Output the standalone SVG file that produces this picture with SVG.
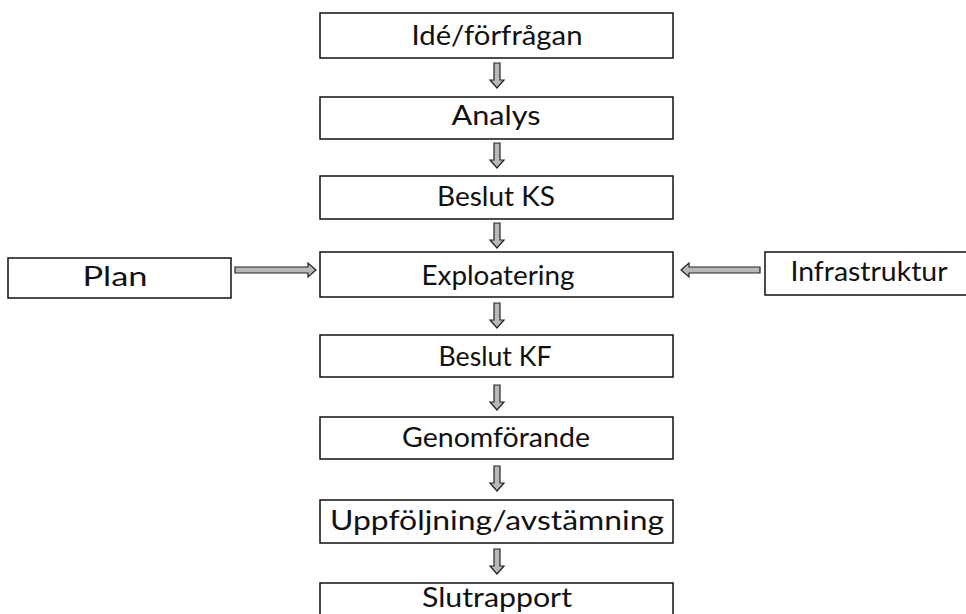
<svg xmlns="http://www.w3.org/2000/svg" xmlns:xlink="http://www.w3.org/1999/xlink" width="966" height="614" viewBox="0 0 966 614">
<style>
.box{fill:#fff;stroke:#111;stroke-width:1.5}
.lbl{font-family:Lato,"Open Sans","Liberation Sans",sans-serif;font-size:26px;fill:#111;text-anchor:middle}
.arr{fill:#b8b8b8;stroke:#222;stroke-width:1.2;stroke-linejoin:miter}
</style>
<defs>
<path id="vArrow" class="arr" d="M-3,0 H3 V17 H7 L0,25 L-7,17 H-3 Z"/>
</defs>
<rect width="966" height="614" fill="#fff"/>
<g id="connectors">
<use xlink:href="#vArrow" x="497" y="63"/>
<use xlink:href="#vArrow" x="497" y="143"/>
<use xlink:href="#vArrow" x="497" y="223"/>
<use xlink:href="#vArrow" x="497" y="303"/>
<use xlink:href="#vArrow" x="497" y="385"/>
<use xlink:href="#vArrow" x="497" y="466"/>
<use xlink:href="#vArrow" x="497" y="549"/>
<path class="arr" d="M235,267 H308 V263 L316,270 L308,277 V273 H235 Z"/>
<path class="arr" d="M760,267 H689 V263 L681,270 L689,277 V273 H760 Z"/>
</g>
<g id="n1"><rect class="box" x="320" y="13" width="353" height="45"/><text class="lbl" x="497" y="45" textLength="171" lengthAdjust="spacingAndGlyphs">Idé/förfrågan</text></g>
<g id="n2"><rect class="box" x="320" y="97" width="353" height="42"/><text class="lbl" x="496" y="125" textLength="89" lengthAdjust="spacingAndGlyphs">Analys</text></g>
<g id="n3"><rect class="box" x="320" y="176" width="353" height="43"/><text class="lbl" x="496" y="206" textLength="118" lengthAdjust="spacingAndGlyphs">Beslut KS</text></g>
<g id="n4"><rect class="box" x="320" y="252" width="353" height="45"/><text class="lbl" x="498" y="285" textLength="153" lengthAdjust="spacingAndGlyphs">Exploatering</text></g>
<g id="plan"><rect class="box" x="8" y="258" width="223" height="40"/><text class="lbl" x="115" y="286" textLength="65" lengthAdjust="spacingAndGlyphs">Plan</text></g>
<g id="infra"><rect class="box" x="765" y="252" width="210" height="43"/><text class="lbl" x="869" y="281" textLength="157" lengthAdjust="spacingAndGlyphs">Infrastruktur</text></g>
<g id="n5"><rect class="box" x="320" y="335" width="353" height="42"/><text class="lbl" x="495" y="366" textLength="113" lengthAdjust="spacingAndGlyphs">Beslut KF</text></g>
<g id="n6"><rect class="box" x="320" y="417" width="353" height="42"/><text class="lbl" x="496" y="447" textLength="188" lengthAdjust="spacingAndGlyphs">Genomförande</text></g>
<g id="n7"><rect class="box" x="320" y="500" width="353" height="43"/><text class="lbl" x="497" y="530" textLength="334" lengthAdjust="spacingAndGlyphs">Uppföljning/avstämning</text></g>
<g id="n8"><rect class="box" x="320" y="583" width="353" height="45"/><text class="lbl" x="497" y="607" textLength="150" lengthAdjust="spacingAndGlyphs">Slutrapport</text></g>
</svg>
